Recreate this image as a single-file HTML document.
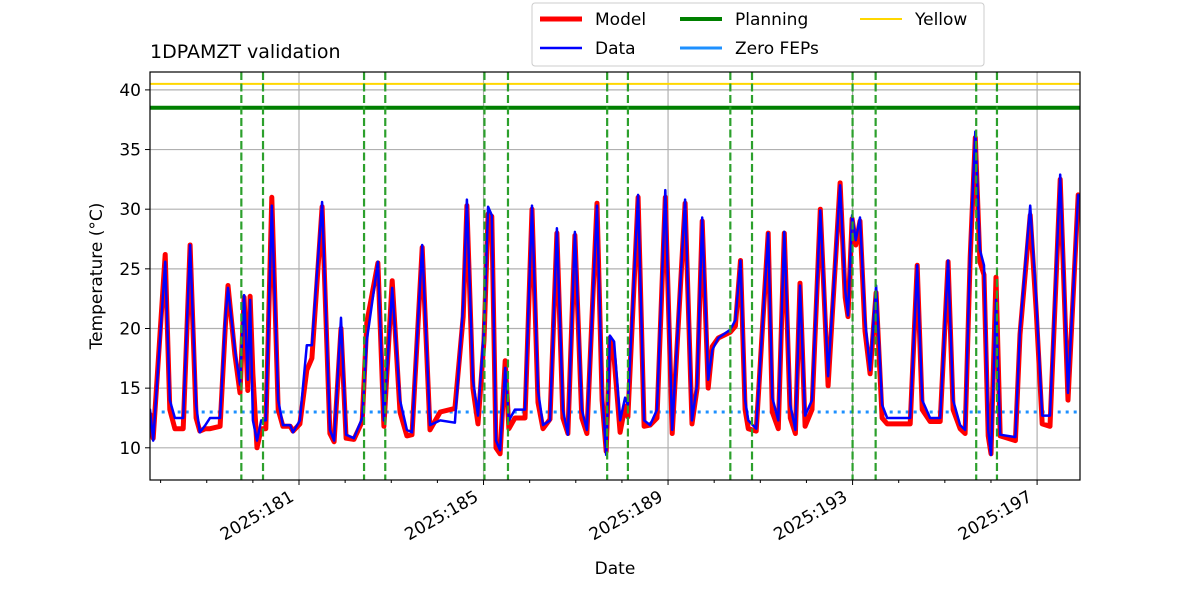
<!DOCTYPE html>
<html><head><meta charset="utf-8"><style>
body{margin:0;background:#fff;font-family:"Liberation Sans","DejaVu Sans",sans-serif}
</style></head><body>
<svg id="chart" width="1200" height="600" xmlns="http://www.w3.org/2000/svg" font-family="DejaVu Sans, Liberation Sans, sans-serif"></svg>
<script>
const dataDays=[177.77,177.84,178.10,178.20,178.31,178.49,178.64,178.77,178.85,178.97,179.07,179.29,179.40,179.46,179.61,179.72,179.81,179.89,179.94,180.00,180.09,180.18,180.28,180.41,180.55,180.65,180.81,180.87,181.02,181.17,181.28,181.50,181.67,181.76,181.91,182.02,182.19,182.37,182.47,182.71,182.84,183.02,183.19,183.34,183.45,183.67,183.84,184.06,184.38,184.56,184.64,184.77,184.88,185.01,185.10,185.18,185.27,185.36,185.47,185.55,185.68,185.90,186.05,186.18,186.29,186.44,186.59,186.72,186.83,186.98,187.13,187.24,187.46,187.57,187.66,187.74,187.83,187.96,188.07,188.13,188.35,188.48,188.61,188.76,188.94,189.09,189.37,189.52,189.63,189.74,189.87,189.96,190.09,190.35,190.46,190.57,190.67,190.74,190.91,191.17,191.26,191.39,191.52,191.65,191.76,191.86,191.97,192.12,192.30,192.47,192.73,192.84,192.90,192.99,193.07,193.16,193.27,193.38,193.51,193.64,193.75,194.25,194.40,194.51,194.68,194.90,195.07,195.18,195.33,195.44,195.55,195.66,195.76,195.85,195.94,196.00,196.11,196.20,196.53,196.63,196.85,196.98,197.11,197.28,197.50,197.67,197.89];
const dataTemps=[13.2,10.6,25.6,14.0,12.5,12.5,27.0,13.6,11.3,11.9,12.5,12.5,20.7,23.4,18.2,15.3,22.8,15.7,22.4,12.3,10.6,12.3,12.3,30.3,14.0,11.9,11.9,11.3,12.3,18.6,18.6,30.6,11.5,10.6,20.9,11.1,10.8,12.5,19.0,25.6,12.3,23.4,14.0,11.5,11.3,27.0,11.9,12.3,12.1,22.0,30.8,15.7,12.7,19.9,30.2,29.5,10.6,9.8,16.7,12.3,13.2,13.2,30.3,14.8,11.9,12.3,28.4,13.2,11.1,28.1,13.2,11.5,30.3,14.8,9.4,19.4,18.9,12.3,14.2,13.6,31.2,12.3,11.9,13.2,31.6,11.5,30.8,12.3,15.3,29.3,15.7,18.2,19.2,19.9,20.7,25.7,14.0,12.3,11.6,28.0,14.2,12.3,28.1,13.6,11.5,23.6,12.7,14.0,29.9,16.0,32.0,23.2,21.1,29.5,27.4,29.3,20.7,16.5,23.6,13.6,12.5,12.5,25.3,14.0,12.5,12.5,25.7,14.0,11.9,11.5,26.6,36.5,26.6,25.3,11.5,9.4,22.4,11.1,10.9,19.9,30.3,22.4,12.7,12.7,32.9,14.6,31.2];
const modelDays=dataDays.slice();
const modelTemps=[12.8,10.8,26.2,13.2,11.6,11.6,27.0,12.5,11.4,11.6,11.6,11.8,20.0,23.6,17.8,14.6,22.6,14.8,22.7,16.2,10.0,11.6,11.6,31.0,13.2,11.8,11.8,11.4,12.0,16.5,17.5,30.2,11.2,10.5,20.0,10.8,10.7,12.2,20.5,25.5,11.8,24.0,13.0,11.0,11.1,26.8,11.5,13.0,13.3,21.0,30.3,15.0,12.0,19.0,29.6,29.4,10.0,9.5,17.3,11.6,12.5,12.5,30.0,13.8,11.6,12.4,28.0,12.5,11.2,27.8,12.5,11.2,30.5,14.0,9.7,19.2,17.5,11.3,13.5,12.6,31.0,11.8,11.9,12.5,31.0,11.2,30.5,12.0,15.0,29.0,15.0,18.5,19.2,19.7,20.2,25.7,13.2,11.6,11.4,28.0,13.0,11.6,28.0,12.5,11.2,23.8,11.8,13.2,30.0,15.2,32.2,22.6,21.0,29.2,27.0,29.0,19.8,16.2,23.0,12.5,12.0,12.0,25.3,13.2,12.2,12.2,25.6,13.2,11.6,11.2,26.0,36.0,25.6,24.5,11.0,9.5,24.3,11.0,10.6,19.5,29.5,21.5,12.0,11.8,32.5,14.0,31.2];
const fepDays=[177.85,197.9];
const fepTemps=[13.0,13.0];
const planningLimit=38.5;
const yellowLimit=40.5;
const commDays=[179.75,180.22,182.41,182.87,185.02,185.53,187.68,188.13,190.35,190.82,193.0,193.5,195.68,196.13];
const xTicks=[181,185,189,193,197];
const xTickLabels=["2025:181","2025:185","2025:189","2025:193","2025:197"];
const yTicks=[10,15,20,25,30,35,40];

const svg=document.getElementById('chart');
const NS='http://www.w3.org/2000/svg';
const L=150,R=1080,T=72,B=480;
const xMin=177.77,xMax=197.93,yMin=7.3,yMax=41.5;
const xs=d=>L+(d-xMin)/(xMax-xMin)*(R-L);
const ys=v=>B-(v-yMin)/(yMax-yMin)*(B-T);
function mk(tag,attrs,parent){const e=document.createElementNS(NS,tag);for(const k in attrs)e.setAttribute(k,attrs[k]);(parent||svg).appendChild(e);return e;}

const defs=mk('defs',{});const cp=mk('clipPath',{id:'clip'},defs);mk('rect',{x:L,y:T,width:R-L,height:B-T},cp);

const grid=mk('g',{});


xTicks.forEach(t=>mk('line',{x1:xs(t),x2:xs(t),y1:T,y2:B,stroke:'#b0b0b0','stroke-width':1.2},grid));
yTicks.forEach(t=>mk('line',{x1:L,x2:R,y1:ys(t),y2:ys(t),stroke:'#b0b0b0','stroke-width':1.2},grid));

const plot=mk('g',{'clip-path':'url(#clip)'});
function hline(v,color,w){return mk('line',{x1:L,x2:R,y1:ys(v),y2:ys(v),stroke:color,'stroke-width':w},plot);}
let e=hline(yellowLimit,'#ffd700',2);


e=hline(planningLimit,'green',4);


e=mk('line',{x1:xs(fepDays[0]),x2:xs(fepDays[1]),y1:ys(fepTemps[0]),y2:ys(fepTemps[1]),stroke:'#1e90ff','stroke-width':3,'stroke-dasharray':'3 5'},plot);


function poly(days,temps,color,w){const p=days.map((d,i)=>xs(d).toFixed(1)+','+ys(temps[i]).toFixed(1)).join(' ');return mk('polyline',{points:p,fill:'none',stroke:color,'stroke-width':w,'stroke-linejoin':'round','stroke-linecap':'round'},plot);}
e=poly(modelDays,modelTemps,'red',5);


e=poly(dataDays,dataTemps,'blue',2.5);


commDays.forEach(d=>{const l=mk('line',{x1:xs(d),x2:xs(d),y1:T,y2:B,stroke:'#2ca02c','stroke-width':2.2,'stroke-dasharray':'8 3.5'},plot);

});

mk('rect',{x:L,y:T,width:R-L,height:B-T,fill:'none',stroke:'#000','stroke-width':1.2});

for(let d=Math.ceil(xMin);d<=xMax;d++){mk('line',{x1:xs(d),x2:xs(d),y1:B,y2:B+(xTicks.includes(d)?5:3),stroke:'#000','stroke-width':1});}
xTicks.forEach((t,i)=>{const ax=xs(t)-4,ay=B+20;const tx=mk('text',{x:ax,y:ay,'font-size':17,'text-anchor':'end',transform:`rotate(-30 ${ax} ${ay})`});tx.textContent=xTickLabels[i];

});
yTicks.forEach(t=>{mk('line',{x1:L-5,x2:L,y1:ys(t),y2:ys(t),stroke:'#000'});const tx=mk('text',{x:L-9,y:ys(t)+6,'font-size':17,'text-anchor':'end'});tx.textContent=t;

});

let t=mk('text',{x:615,y:574,'font-size':17,'text-anchor':'middle'});t.textContent='Date';


t=mk('text',{x:102,y:276,'font-size':17,'text-anchor':'middle',transform:'rotate(-90 102 276)'});t.textContent='Temperature (°C)';


t=mk('text',{x:150,y:58,'font-size':19});t.textContent='1DPAMZT validation';



const lg=mk('g',{});


mk('rect',{x:532,y:3,width:452,height:63,rx:3,fill:'#fff',stroke:'#ccc'},lg);
const entries=[['Model','red',5,540,19],['Data','blue',2.5,540,48],['Planning','green',4,680,19],['Zero FEPs','#1e90ff',3,680,48],['Yellow','#ffd700',2,860,19]];
entries.forEach(en=>{const g=mk('g',{},lg);


mk('line',{x1:en[3],x2:en[3]+42,y1:en[4],y2:en[4],stroke:en[1],'stroke-width':en[2]},g);const tx=mk('text',{x:en[3]+55,y:en[4]+6,'font-size':17},g);tx.textContent=en[0];});
</script>
</body></html>
